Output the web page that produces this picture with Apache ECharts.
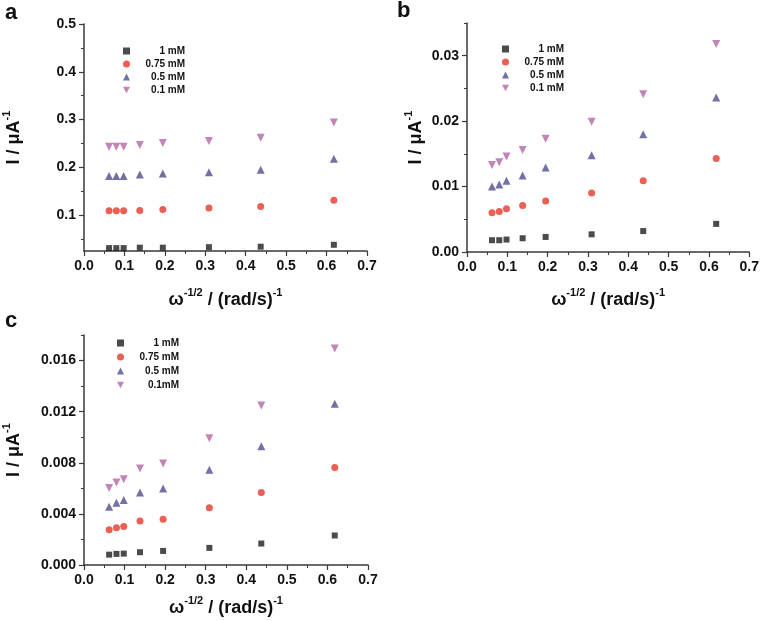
<!DOCTYPE html>
<html>
<head>
<meta charset="utf-8">
<script src="https://cdn.jsdelivr.net/npm/echarts@6/dist/echarts.min.js"></script>
<style>
html,body{margin:0;padding:0;background:#fff;}
#main{width:762px;height:621px;}
</style>
</head>
<body>
<div id="main"></div>
<script>
// x values: omega^-1/2 (rad/s)^-1
const xVals = [0.062, 0.080, 0.098, 0.138, 0.195, 0.309, 0.437, 0.618];

// Panel a
const a_1mM   = [0.031, 0.031, 0.031, 0.032, 0.032, 0.033, 0.034, 0.038];
const a_075mM = [0.109, 0.109, 0.109, 0.110, 0.112, 0.115, 0.118, 0.131];
const a_05mM  = [0.182, 0.182, 0.182, 0.185, 0.187, 0.190, 0.195, 0.218];
const a_01mM  = [0.243, 0.243, 0.243, 0.247, 0.251, 0.255, 0.262, 0.294];

// Panel b
const b_1mM   = [0.0018, 0.0018, 0.0019, 0.0021, 0.0023, 0.0027, 0.0032, 0.0043];
const b_075mM = [0.0060, 0.0062, 0.0066, 0.0071, 0.0078, 0.0090, 0.0109, 0.0143];
const b_05mM  = [0.0100, 0.0103, 0.0109, 0.0117, 0.0129, 0.0148, 0.0180, 0.0236];
const b_01mM  = [0.0133, 0.0137, 0.0146, 0.0156, 0.0173, 0.0199, 0.0241, 0.0318];

// Panel c
const c_1mM   = [0.00081, 0.00087, 0.00089, 0.00100, 0.00110, 0.00134, 0.00168, 0.00231];
const c_075mM = [0.00275, 0.00291, 0.00302, 0.00344, 0.00359, 0.00449, 0.00567, 0.00763];
const c_05mM  = [0.00456, 0.00488, 0.00509, 0.00567, 0.00598, 0.00745, 0.00929, 0.01262];
const c_01mM  = [0.00603, 0.00645, 0.00672, 0.00755, 0.00795, 0.00992, 0.01249, 0.01694];

// Legend names
const namesAB = ['1 mM', '0.75 mM', '0.5 mM', '0.1 mM'];
const namesC  = ['1 mM', '0.75 mM', '0.5 mM', '0.1mM'];

// Axis ticks
const xTicks = [0, 0.1, 0.2, 0.3, 0.4, 0.5, 0.6, 0.7];
const aMajor = [0.1, 0.2, 0.3, 0.4, 0.5];
const aMinor = [0.05, 0.15, 0.25, 0.35, 0.45];
const bMajor = [0, 0.01, 0.02, 0.03];
const bMinor = [0.005, 0.015, 0.025, 0.035];
const cMajor = [0, 0.004, 0.008, 0.012, 0.016];
const cMinor = [0.002, 0.006, 0.010, 0.014, 0.018];

const FONT = 'Liberation Sans, Arial, sans-serif';
const AX = '#3a3a3a';
const colors = ['#1e1e1e', '#e6372b', '#4d4d8e', '#b267a6'];
const symbols = ['rect', 'circle', 'triangle', 'triangle'];
const legendIcons = ['rect', 'circle', 'triangle', 'path://M0,0L10,0L5,9Z'];
const rotates = [0, 0, 0, 180];
const sizes = [6, 7, 8, 8];

const grids = [
  {left: 83, top: 24, width: 284, height: 227},
  {left: 467, top: 23, width: 284, height: 229},
  {left: 83, top: 335, width: 285, height: 230}
];

const xName = '{a|ω}{s|-1/2}{a| / (rad/s)}{s|-1}';
const yName = '{a|I / μA}{s|-1}';
const nameRich = {
  a: {fontSize: 18, fontWeight: 'bold', fontFamily: FONT, color: '#111', lineHeight: 22, verticalAlign: 'bottom'},
  s: {fontSize: 11, fontWeight: 'bold', fontFamily: FONT, color: '#111', lineHeight: 22, verticalAlign: 'top'}
};

function xAxis(gi, gap) {
  return {
    type: 'value', gridIndex: gi, min: 0, max: 0.7, interval: 0.1,
    axisLine: {show: true, lineStyle: {color: AX, width: 1.5}},
    axisTick: {show: true, length: 5, lineStyle: {color: AX, width: 1.2}},
    minorTick: {show: true, splitNumber: 2, length: 3, lineStyle: {color: AX, width: 1}},
    splitLine: {show: false},
    axisLabel: {margin: 8, fontSize: 14, fontWeight: 'bold', fontFamily: FONT, color: '#111',
      formatter: v => v.toFixed(1)},
    name: xName, nameLocation: 'middle', nameGap: gap,
    nameTextStyle: {rich: nameRich}
  };
}

function yAxis(gi, min, max, major, dec, gap) {
  return {
    type: 'value', gridIndex: gi, min: min, max: max,
    axisLine: {show: true, lineStyle: {color: AX, width: 1.5}},
    axisTick: {show: true, length: 5, customValues: major, lineStyle: {color: AX, width: 1.2}},
    splitLine: {show: false},
    axisLabel: {margin: 8, fontSize: 14, fontWeight: 'bold', fontFamily: FONT, color: '#111',
      customValues: major, formatter: v => v.toFixed(dec)},
    name: yName, nameLocation: 'middle', nameGap: gap, nameRotate: 90,
    nameTextStyle: {rich: nameRich}
  };
}

function yMinor(gi, min, max, minor) {
  return {
    type: 'value', gridIndex: gi, min: min, max: max, position: 'left',
    axisLine: {show: false},
    axisTick: {show: true, length: 3, customValues: minor, lineStyle: {color: AX, width: 1}},
    axisLabel: {show: false, customValues: minor},
    splitLine: {show: false}
  };
}

function mkSeries(gi, names, arrs) {
  return arrs.map((arr, i) => ({
    type: 'scatter', name: names[i], xAxisIndex: gi, yAxisIndex: gi,
    data: arr.map((y, k) => [xVals[k], y]),
    symbol: symbols[i], symbolRotate: rotates[i], symbolSize: sizes[i],
    itemStyle: {color: colors[i]},
    emphasis: {disabled: true}
  }));
}

function legend(left, top, names, gap) {
  return {
    orient: 'vertical', left: left, top: top,
    data: names.map((n, i) => ({name: n, icon: legendIcons[i]})),
    itemWidth: 7, itemHeight: 7, itemGap: gap, padding: 0,
    selectedMode: false,
    formatter: '{t|{name}}',
    textStyle: {fontFamily: FONT, fontSize: 10, fontWeight: 'bold', color: '#111',
      rich: {t: {width: 50, align: 'right', fontSize: 10, fontWeight: 'bold', fontFamily: FONT, color: '#111'}}}
  };
}

const chart = echarts.init(document.getElementById('main'), null, {renderer: 'canvas'});
chart.setOption({
  animation: false,
  backgroundColor: '#fff',
  grid: grids,
  xAxis: [xAxis(0, 36), xAxis(1, 35), xAxis(2, 30)],
  yAxis: [
    yAxis(0, 0.025, 0.5, aMajor, 1, 61),
    yAxis(1, 0, 0.035, bMajor, 2, 42),
    yAxis(2, 0, 0.018, cMajor, 3, 61),
    yMinor(0, 0.025, 0.5, aMinor),
    yMinor(1, 0, 0.035, bMinor),
    yMinor(2, 0, 0.018, cMinor)
  ],
  legend: [
    legend(123, 46, namesAB, 3),
    legend(502, 44, namesAB, 3),
    legend(117, 338, namesC, 4)
  ],
  series: [].concat(
    mkSeries(0, namesAB, [a_1mM, a_075mM, a_05mM, a_01mM]),
    mkSeries(1, namesAB, [b_1mM, b_075mM, b_05mM, b_01mM]),
    mkSeries(2, namesC, [c_1mM, c_075mM, c_05mM, c_01mM])
  ),
  graphic: [
    {type: 'text', left: 5, top: 2, style: {text: 'a', font: 'bold 22px ' + FONT, fill: '#111'}},
    {type: 'text', left: 397, top: 0, style: {text: 'b', font: 'bold 22px ' + FONT, fill: '#111'}},
    {type: 'text', left: 5, top: 310, style: {text: 'c', font: 'bold 22px ' + FONT, fill: '#111'}}
  ]
});
</script>
</body>
</html>
